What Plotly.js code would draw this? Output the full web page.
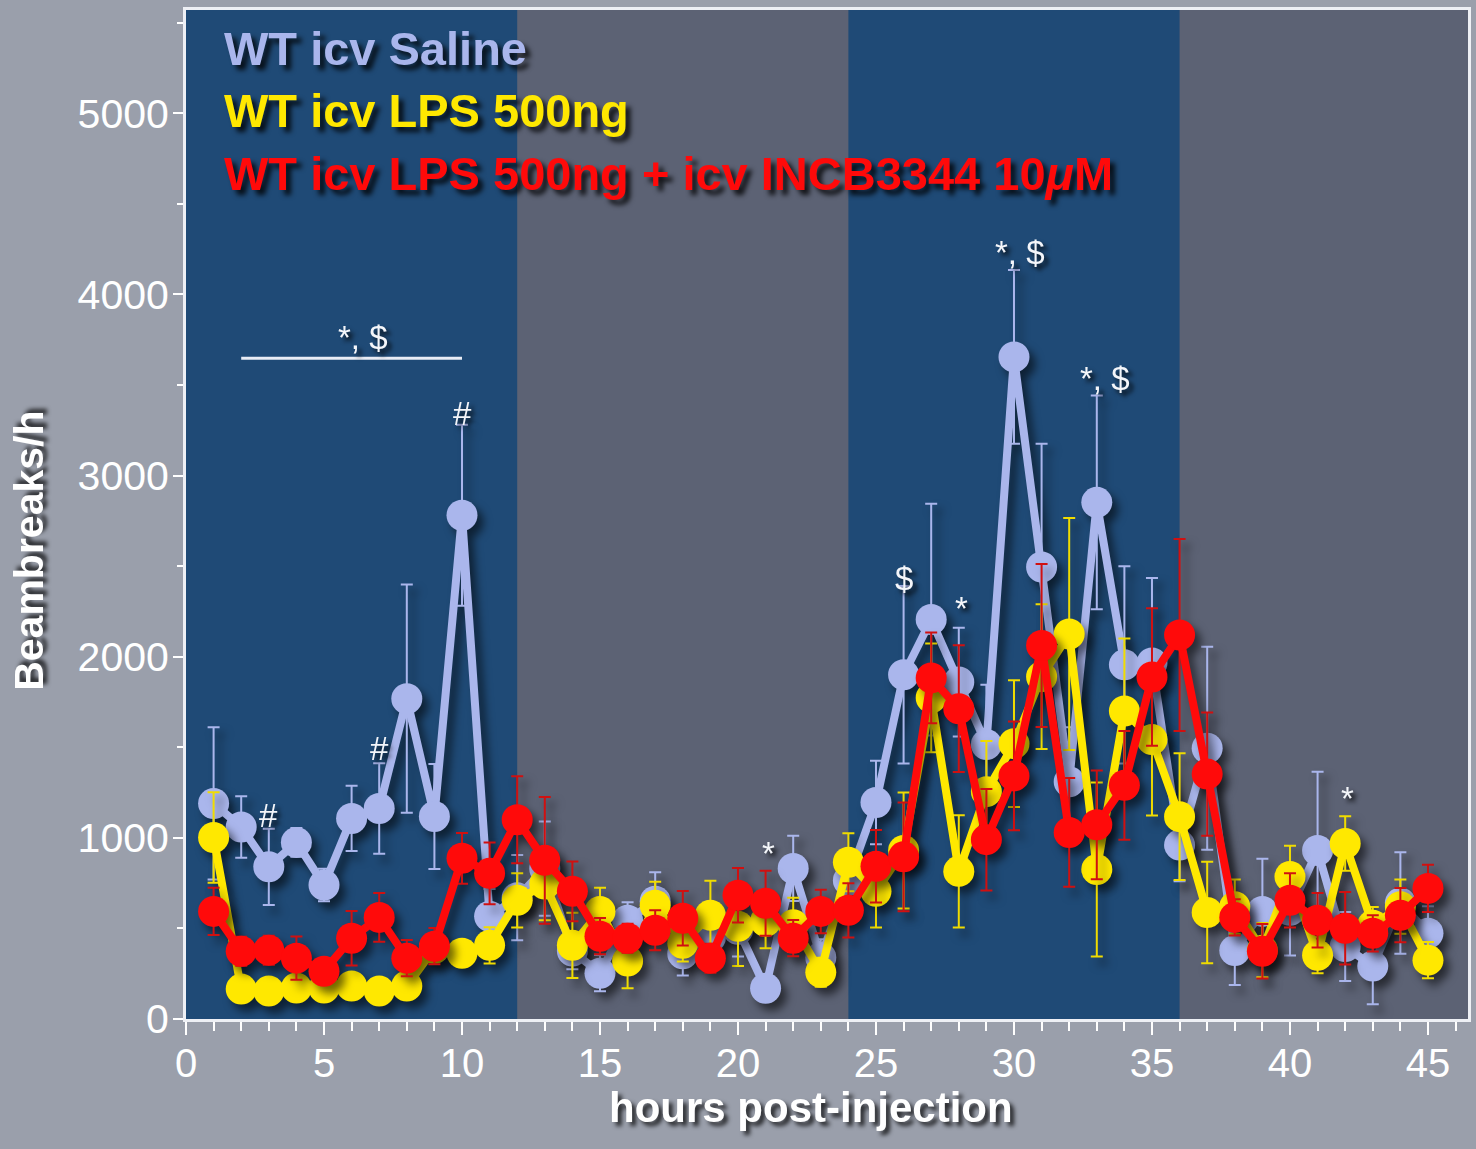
<!DOCTYPE html>
<html>
<head>
<meta charset="utf-8">
<script src="https://cdn.plot.ly/plotly-3.0.1.min.js"></script>
<style>
  html, body { margin: 0; padding: 0; background: #9a9fab; }
  #chart { width: 1476px; height: 1149px; }
  #chart .scatterlayer .trace { filter: drop-shadow(6px 7px 4px rgba(0,0,0,0.55)); }
</style>
</head>
<body>
<div id="chart"></div>
<script>
// ---- data ----
const hours = [1,2,3,4,5,6,7,8,9,10,11,12,13,14,15,16,17,18,19,20,21,22,23,24,25,26,27,28,29,30,31,32,33,34,35,36,37,38,39,40,41,42,43,44,45];

const salineName = "WT icv Saline";
const salineMean = [1190,1060,840,975,740,1107,1162,1768,1118,2781,567,670,830,375,253,545,650,360,450,495,170,831,340,765,1195,1900,2205,1860,1515,3655,2495,1310,2852,1955,1965,960,1495,378,594,600,930,400,292,640,473];
const salineErr  = [420,170,210,80,90,180,250,630,290,500,150,235,260,100,100,100,160,120,120,150,60,180,100,100,230,490,640,300,330,480,680,300,590,545,470,200,560,190,290,250,435,190,210,280,150];

const lpsName = "WT icv LPS 500ng";
const lpsMean = [1002,165,154,171,171,182,154,182,390,363,407,655,745,407,594,320,628,418,573,512,540,520,258,865,705,930,1773,815,1255,1520,1890,2125,825,1700,1543,1117,588,620,380,787,352,969,518,620,325];
const lpsErr  = [250,40,40,40,40,40,40,40,50,50,100,150,200,180,130,150,130,100,190,220,150,150,80,160,200,320,300,310,280,350,400,640,480,400,420,350,280,150,150,170,100,150,100,150,100];

const incbName = "WT icv LPS 500ng + icv INCB3344 10μM";
const incbMean = [594,374,380,336,264,446,561,336,402,887,804,1100,876,705,457,446,490,556,336,683,639,446,594,600,843,895,1883,1713,990,1342,2062,1030,1072,1290,1888,2120,1352,561,374,655,545,501,473,573,721];
const incbErr  = [130,80,80,120,70,150,135,100,100,140,170,240,350,165,100,80,110,150,80,150,180,100,120,150,200,300,250,350,280,300,450,300,300,300,380,530,340,100,150,150,150,200,100,150,130];

const xTickVals = [0,5,10,15,20,25,30,35,40,45];
const yTickVals = [0,1000,2000,3000,4000,5000];
const darkPhases = [[0,12],[24,36]];

// significance marks: [x, y, text]
const sigMarks = [
  [6.4, 3760, "*, $"],
  [3, 1126, "#"],
  [7, 1496, "#"],
  [10, 3344, "#"],
  [26, 2434, "$"],
  [28.1, 2268, "*"],
  [30.2, 4233, "*, $"],
  [33.3, 3538, "*, $"],
  [21.1, 916, "*"],
  [42.1, 1220, "*"]
];
const sigBar = {x0: 2, x1: 10, y: 3648};

// ---- styling ----
const FONT = '"Liberation Sans", Arial, sans-serif';
const cSaline = '#aab6ec';
const cLps = '#ffe800';
const cIncb = '#ff0a0a';

function series(name, y, err, color, errColor) {
  return {
    type: 'scatter', mode: 'lines+markers', name: name,
    x: hours, y: y,
    line: {color: color, width: 8},
    marker: {color: color, size: 31, line: {width: 0}},
    error_y: {type: 'data', array: err, visible: true, color: errColor, thickness: 2, width: 6},
    cliponaxis: false
  };
}

const traces = [
  series(salineName, salineMean, salineErr, cSaline, cSaline),
  series(lpsName, lpsMean, lpsErr, cLps, '#f0dc00'),
  series(incbName, incbMean, incbErr, cIncb, '#d01010')
];

const shapes = darkPhases.map(p => ({
  type: 'rect', xref: 'x', yref: 'paper', x0: p[0], x1: p[1], y0: 0, y1: 1,
  fillcolor: '#1f4a76', line: {width: 0}, layer: 'below'
}));
shapes.push({type: 'line', xref: 'x', yref: 'y', x0: sigBar.x0, x1: sigBar.x1, y0: sigBar.y, y1: sigBar.y,
  line: {color: '#e8ecf5', width: 3}});

const shadow = '4px 4px 4px rgba(0,0,0,0.75)';
const annotations = sigMarks.map(m => ({
  x: m[0], y: m[1], xref: 'x', yref: 'y', text: m[2], showarrow: false,
  font: {family: FONT, size: 33, color: '#f4f6fa', shadow: shadow}, xanchor: 'center', yanchor: 'middle'
}));

const legendLines = [
  [salineName, cSaline, 0.962],
  [lpsName, cLps, 0.900],
  ["WT icv LPS 500ng + icv INCB3344 10<i>μ</i>M", cIncb, 0.838]
];
legendLines.forEach(l => annotations.push({
  x: 0.028, y: l[2], xref: 'paper', yref: 'paper', text: '<b>' + l[0] + '</b>', showarrow: false,
  xanchor: 'left', yanchor: 'middle',
  font: {family: FONT, size: 47, color: l[1], shadow: '5px 5px 5px rgba(0,0,0,0.8)'}
}));

annotations.push({
  x: 0.4875, y: -0.088, xref: 'paper', yref: 'paper', text: '<b>hours post-injection</b>', showarrow: false,
  xanchor: 'center', yanchor: 'middle', font: {family: FONT, size: 42, color: '#ffffff', shadow: shadow}
});
annotations.push({
  x: -0.122, y: 0.4636, xref: 'paper', yref: 'paper', text: '<b>Beambreaks/h</b>', showarrow: false,
  textangle: -90, xanchor: 'center', yanchor: 'middle', font: {family: FONT, size: 41, color: '#ffffff', shadow: shadow}
});

const layout = {
  width: 1476, height: 1149,
  margin: {l: 186, r: 8, t: 10, b: 130, pad: 0},
  paper_bgcolor: '#9a9fab',
  plot_bgcolor: '#5c6274',
  showlegend: false,
  xaxis: {
    range: [0, 46.45], tickvals: xTickVals, ticktext: xTickVals.map(String),
    ticks: 'outside', ticklen: 13, tickwidth: 2, tickcolor: '#ffffff',
    minor: {dtick: 1, tick0: 0, ticks: 'outside', ticklen: 9, tickwidth: 2, tickcolor: '#ffffff', showgrid: false},
    showline: true, linecolor: '#eef0f5', linewidth: 3, mirror: true,
    showgrid: false, zeroline: false, ticklabelstandoff: -6,
    tickfont: {family: FONT, size: 40, color: '#ffffff'}
  },
  yaxis: {
    range: [0, 5570], tickvals: yTickVals, ticktext: yTickVals.map(String),
    ticks: 'outside', ticklen: 10, tickwidth: 2, tickcolor: '#ffffff',
    minor: {dtick: 500, tick0: 0, ticks: 'outside', ticklen: 6, tickwidth: 2, tickcolor: '#ffffff', showgrid: false},
    showline: true, linecolor: '#eef0f5', linewidth: 3, mirror: true,
    showgrid: false, zeroline: false, ticklabelstandoff: -4,
    tickfont: {family: FONT, size: 41, color: '#ffffff'}
  },
  shapes: shapes,
  annotations: annotations
};

Plotly.newPlot('chart', traces, layout, {displayModeBar: false, staticPlot: true});
</script>
</body>
</html>
